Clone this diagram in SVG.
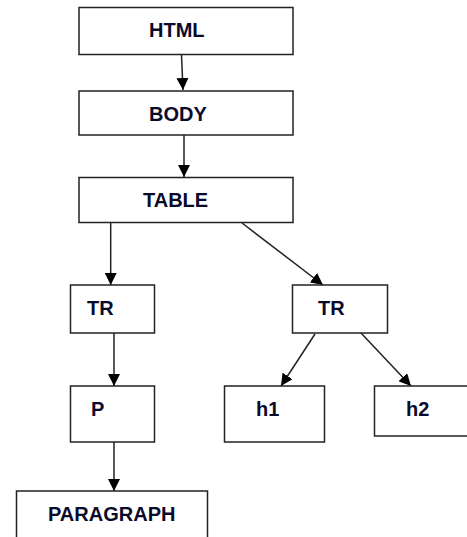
<svg xmlns="http://www.w3.org/2000/svg" width="467" height="537" viewBox="0 0 467 537">
<defs>
<marker id="arr" viewBox="0 0 12 12" refX="12" refY="6" markerWidth="12" markerHeight="12" markerUnits="userSpaceOnUse" orient="auto">
<path d="M0,0 L12,6 L0,12 Z" fill="#000"/>
</marker>
<style>
.box{fill:#fff;stroke:#222;stroke-width:1.5}
.lbl{font-family:"Liberation Sans",Arial,sans-serif;font-weight:bold;font-size:20px;fill:#0a0a2a}
.edge{stroke:#222;stroke-width:1.5;fill:none;marker-end:url(#arr)}
</style>
</defs>
<rect width="467" height="537" fill="#fff"/>
<g id="connectors">
<line class="edge" x1="181.5" y1="55" x2="183" y2="90"/>
<line class="edge" x1="184" y1="135" x2="184" y2="177"/>
<line class="edge" x1="110.7" y1="222" x2="110.7" y2="285"/>
<line class="edge" x1="242" y1="223" x2="323" y2="285"/>
<line class="edge" x1="114" y1="333" x2="114" y2="386"/>
<line class="edge" x1="114" y1="442" x2="114" y2="491"/>
<line class="edge" x1="315" y1="334" x2="281" y2="386"/>
<line class="edge" x1="361" y1="333" x2="411" y2="386"/>
</g>
<g id="html"><rect class="box" x="79" y="7.5" width="214" height="47"/><text class="lbl" x="149" y="37">HTML</text></g>
<g id="body"><rect class="box" x="79" y="91" width="214" height="44"/><text class="lbl" x="149" y="121">BODY</text></g>
<g id="table"><rect class="box" x="79" y="177.5" width="214" height="45"/><text class="lbl" x="143" y="207">TABLE</text></g>
<g id="tr1"><rect class="box" x="70.5" y="285" width="84" height="48"/><text class="lbl" x="87" y="315">TR</text></g>
<g id="tr2"><rect class="box" x="292.5" y="285" width="95" height="48"/><text class="lbl" x="318" y="315">TR</text></g>
<g id="p"><rect class="box" x="70.5" y="386" width="84" height="56"/><text class="lbl" x="91" y="416">P</text></g>
<g id="h1"><rect class="box" x="224.5" y="386" width="100" height="56"/><text class="lbl" x="256" y="416">h1</text></g>
<g id="h2"><rect class="box" x="374.5" y="386" width="100" height="50"/><text class="lbl" x="406" y="416">h2</text></g>
<g id="paragraph"><rect class="box" x="16.5" y="491" width="191" height="60"/><text class="lbl" x="48" y="521">PARAGRAPH</text></g>
</svg>
